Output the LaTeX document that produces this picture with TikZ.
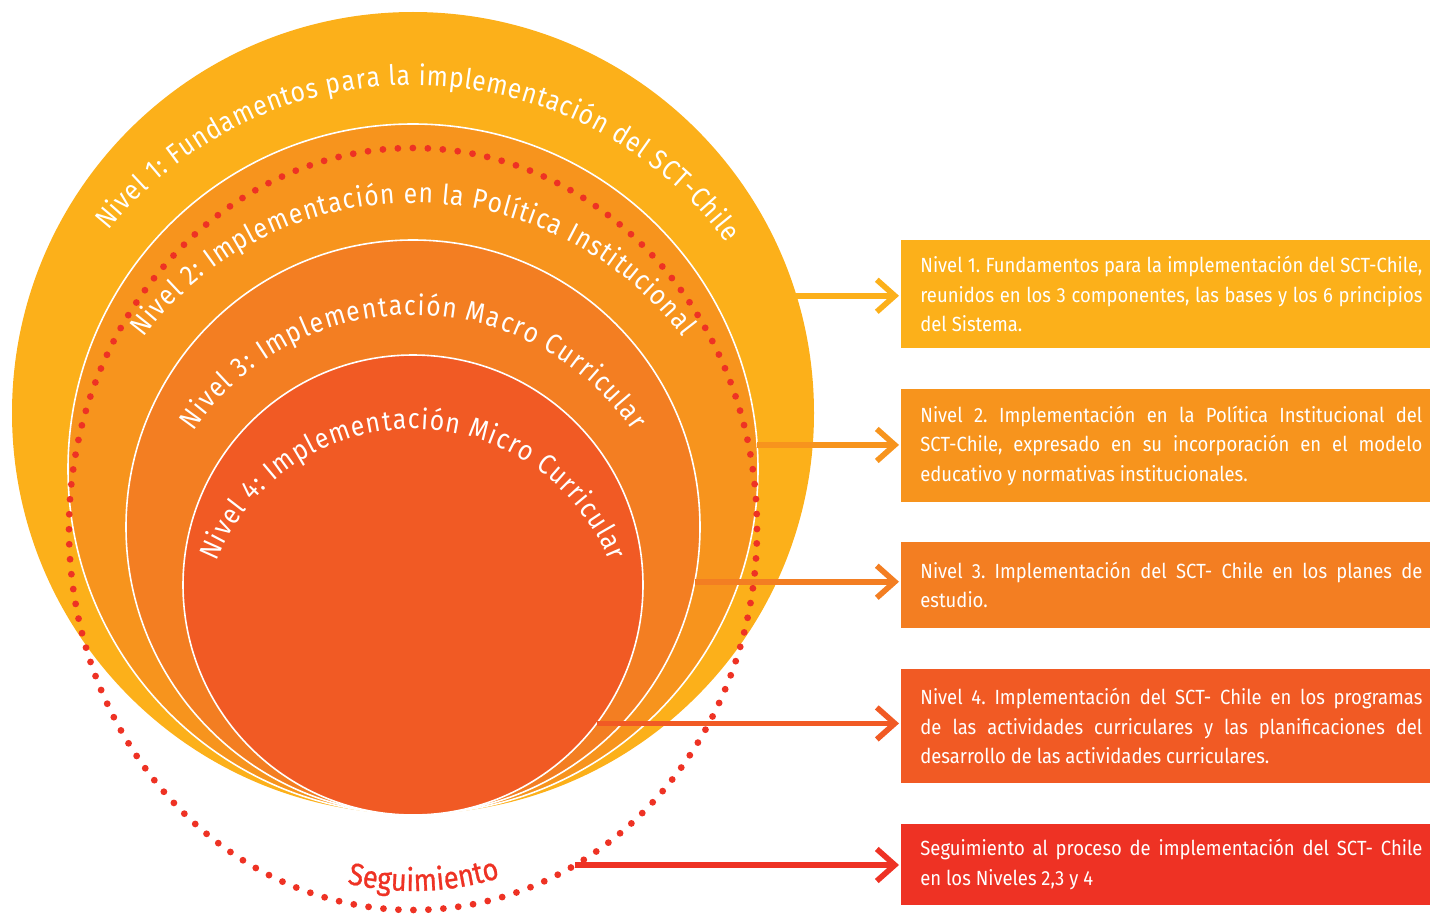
\documentclass[tikz,border=0pt]{standalone}
\usepackage{fontspec}
\setmainfont{Fira Sans}
\newfontfamily\arcfont{Fira Sans}[FakeStretch=0.88]
\newfontfamily\segfont{Fira Sans}[FakeStretch=0.88, FakeBold=0.8]
\newfontfamily\boxfont{Fira Sans}[FakeStretch=0.9]
\usetikzlibrary{decorations.text,arrows.meta,positioning}

\definecolor{nivA}{RGB}{252,176,26}
\definecolor{nivB}{RGB}{247,148,29}
\definecolor{nivC}{RGB}{243,126,34}
\definecolor{nivD}{RGB}{241,90,36}
\definecolor{segred}{RGB}{238,50,36}

\begin{document}
\begin{tikzpicture}[x=0.5pt,y=0.5pt,
  ring/.style={circle, inner sep=0pt, outer sep=0pt, draw=white, line width=0.8pt},
  info/.style={anchor=west, inner xsep=9.5pt, inner ysep=0pt, text width=251pt, align=justify,
    text=white, font=\boxfont\fontsize{10.25}{14.75}\selectfont\frenchspacing},
  flecha/.style={line width=2.8pt, -{Straight Barb[length=9pt,width=16pt]}, shorten >=1pt},
  arctext/.style={decorate, decoration={text along path, text align=fit to path, text color=white,
    text={|\arcfont\fontsize{14}{16}\selectfont|#1}}}
]
\useasboundingbox (0,0) rectangle (1430,-915);

% niveles
\node[ring, fill=nivA, draw=none, minimum size=401pt] (c1) at (413,-413) {};
\node[ring, fill=nivB, minimum size=345pt] (c2) at (413,-469) {};
\node[ring, fill=nivC, minimum size=287pt] (c3) at (413,-527) {};
\node[ring, fill=nivD, minimum size=230pt] (c4) at (413,-585) {};

\path[arctext={Nivel 1: Fundamentos para la implementación del SCT-Chile}]
  (413,-476) ++(141.2:391) arc[start angle=141.2, end angle=36.6, radius=391];
\path[arctext={Nivel 2: Implementación en la Política Institucional}]
  (413,-541) ++(142.9:338) arc[start angle=142.9, end angle=37.1, radius=338];
\path[arctext={Nivel 3: Implementación Macro Curricular}]
  (413,-581) ++(145.7:266) arc[start angle=145.7, end angle=34.3, radius=266];
\path[arctext={Nivel 4: Implementación Micro Curricular}]
  (413,-641) ++(158:212) arc[start angle=158, end angle=22, radius=212];

% seguimiento
\draw[segred, line width=3.4pt, line cap=round, dash pattern=on 0pt off 7.5pt]
  (413,-529) ellipse[x radius=344, y radius=381];
\path[decorate, decoration={text along path, text align=fit to path, text color=segred,
    text={|\segfont\fontsize{15.5}{17}\selectfont|Seguimiento}}]
  (413,-529) ++(258.3:325 and 362) arc[start angle=258.3, end angle=285, x radius=325, y radius=362];
\coordinate (segA) at (575,-865);

\node[info, fill=nivA, minimum height=54pt] (n1) at (901,-294)
  {Nivel 1. Fundamentos para la implementación del SCT-Chile,\linebreak
   reunidos en los 3 componentes, las bases y los 6 principios\linebreak
   del Sistema.};
\node[info, fill=nivB, minimum height=56.5pt] (n2) at (901,-445.5)
  {Nivel 2. Implementación en la Política Institucional del\linebreak
   SCT-Chile, expresado en su incorporación en el modelo\linebreak
   educativo y normativas institucionales.};
\node[info, fill=nivC, minimum height=43pt] (n3) at (901,-585)
  {Nivel 3. Implementación del SCT- Chile en los planes de\linebreak
   estudio.};
\node[info, fill=nivD, minimum height=57pt] (n4) at (901,-726)
  {Nivel 4. Implementación del SCT- Chile en los programas\linebreak
   de las actividades curriculares y las planificaciones del\linebreak
   desarrollo de las actividades curriculares.};
\node[info, fill=segred, minimum height=40.5pt] (n5) at (901,-864.5)
  {Seguimiento al proceso de implementación del SCT- Chile\linebreak
   en los Niveles 2,3 y 4};

\draw[flecha, nivA] (c1.17.86) -- (c1.17.86 -| n1.west);
\draw[flecha, nivB] (c2.4.16) -- (c2.4.16 -| n2.west);
\draw[flecha, nivC] (c3.-11.66) -- (c3.-11.66 -| n3.west);
\draw[flecha, nivD] (c4.-37.5) -- (c4.-37.5 -| n4.west);
\draw[flecha, segred] (segA) -- (segA -| n5.west);
\end{tikzpicture}
\end{document}
